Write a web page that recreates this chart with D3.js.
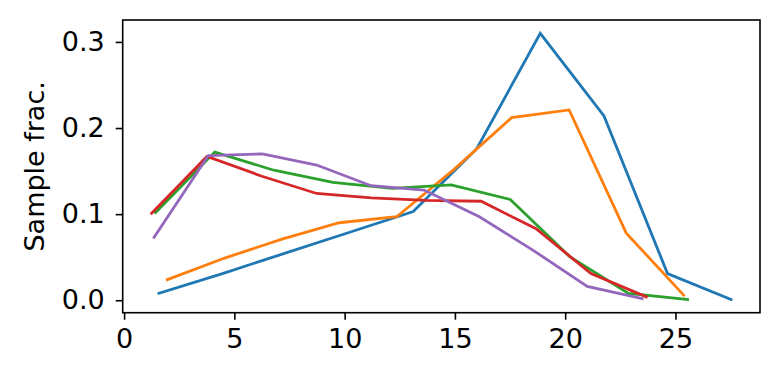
<!DOCTYPE html>
<meta charset="utf-8">
<style>
body { margin: 0; background: #fff; }
text { font-family: "DejaVu Sans", sans-serif; }
</style>
<svg width="780" height="380"></svg>
<script src="https://d3js.org/d3.v7.min.js"></script>
<script>
// series (x = bin centre, y = sample fraction)
var blueX = [1.58, 4.46, 7.34, 10.23, 13.11, 15.99, 18.87, 21.76, 24.64, 27.52];
var blueY = [0.008, 0.031, 0.055, 0.079, 0.103, 0.176, 0.310, 0.214, 0.031, 0.001];

var orangeX = [1.96, 4.56, 7.16, 9.76, 12.36, 14.96, 17.57, 20.18, 22.77, 25.37];
var orangeY = [0.024, 0.049, 0.071, 0.090, 0.097, 0.152, 0.212, 0.221, 0.078, 0.006];

var greenX = [1.43, 4.11, 6.79, 9.47, 12.15, 14.83, 17.51, 20.19, 22.87, 25.55];
var greenY = [0.102, 0.172, 0.151, 0.137, 0.130, 0.134, 0.117, 0.051, 0.008, 0.001];

var redX = [1.25, 3.76, 6.25, 8.73, 11.21, 13.70, 16.19, 18.68, 21.17, 23.68];
var redY = [0.101, 0.167, 0.144, 0.124, 0.119, 0.116, 0.115, 0.083, 0.031, 0.004];

var purpleX = [1.36, 3.82, 6.27, 8.73, 11.20, 13.60, 16.11, 18.55, 21.00, 23.49];
var purpleY = [0.073, 0.168, 0.170, 0.157, 0.133, 0.128, 0.097, 0.058, 0.016, 0.002];

var xTicks = [0, 5, 10, 15, 20, 25];
var yTicks = [0.0, 0.1, 0.2, 0.3];
var yLabel = "Sample frac.";

var series = [
  {x: blueX, y: blueY, color: "#1f77b4"},
  {x: orangeX, y: orangeY, color: "#ff7f0e"},
  {x: greenX, y: greenY, color: "#2ca02c"},
  {x: redX, y: redY, color: "#d62728"},
  {x: purpleX, y: purpleY, color: "#9467bd"}
];

var mLeft = 122.7, mRight = 760, mTop = 20, mBottom = 312.7;

// matplotlib style 5% margins
function padded(vals) {
  var lo = d3.min(vals), hi = d3.max(vals), m = (hi - lo) * 0.05;
  return [lo - m, hi + m];
}
var allX = d3.merge(series.map(function(s) { return s.x; }));
var allY = d3.merge(series.map(function(s) { return s.y; }));

var x = d3.scaleLinear().domain(padded(allX)).range([mLeft, mRight]);
var y = d3.scaleLinear().domain(padded(allY)).range([mBottom, mTop]);

var svg = d3.select("svg");

var line = d3.line()
  .x(function(d) { return x(d[0]); })
  .y(function(d) { return y(d[1]); });

svg.append("g").selectAll("path")
  .data(series)
  .enter().append("path")
  .attr("d", function(s) { return line(d3.zip(s.x, s.y)); })
  .attr("fill", "none")
  .attr("stroke", function(s) { return s.color; })
  .attr("stroke-width", 2.8)
  .attr("stroke-linejoin", "miter")
  .attr("stroke-linecap", "square");

// axes
var xAxis = svg.append("g")
  .attr("transform", "translate(0," + mBottom + ")")
  .call(d3.axisBottom(x).tickValues(xTicks).tickSize(7).tickPadding(9).tickFormat(d3.format("d")));
var yAxis = svg.append("g")
  .attr("transform", "translate(" + mLeft + ",0)")
  .call(d3.axisLeft(y).tickValues(yTicks).tickSize(7).tickPadding(11).tickFormat(d3.format(".1f")));

[xAxis, yAxis].forEach(function(a) {
  a.attr("font-size", 27).attr("font-family", "DejaVu Sans");
  a.select(".domain").remove();
  a.selectAll("line").attr("stroke", "#000").attr("stroke-width", 1.6);
  a.selectAll("text").attr("fill", "#000");
});

// frame
svg.append("rect")
  .attr("x", mLeft).attr("y", mTop)
  .attr("width", mRight - mLeft).attr("height", mBottom - mTop)
  .attr("fill", "none").attr("stroke", "#000").attr("stroke-width", 1.6);

svg.append("text")
  .attr("transform", "translate(44," + ((mTop + mBottom) / 2) + ") rotate(-90)")
  .attr("text-anchor", "middle")
  .attr("font-size", 27)
  .text(yLabel);
</script>
